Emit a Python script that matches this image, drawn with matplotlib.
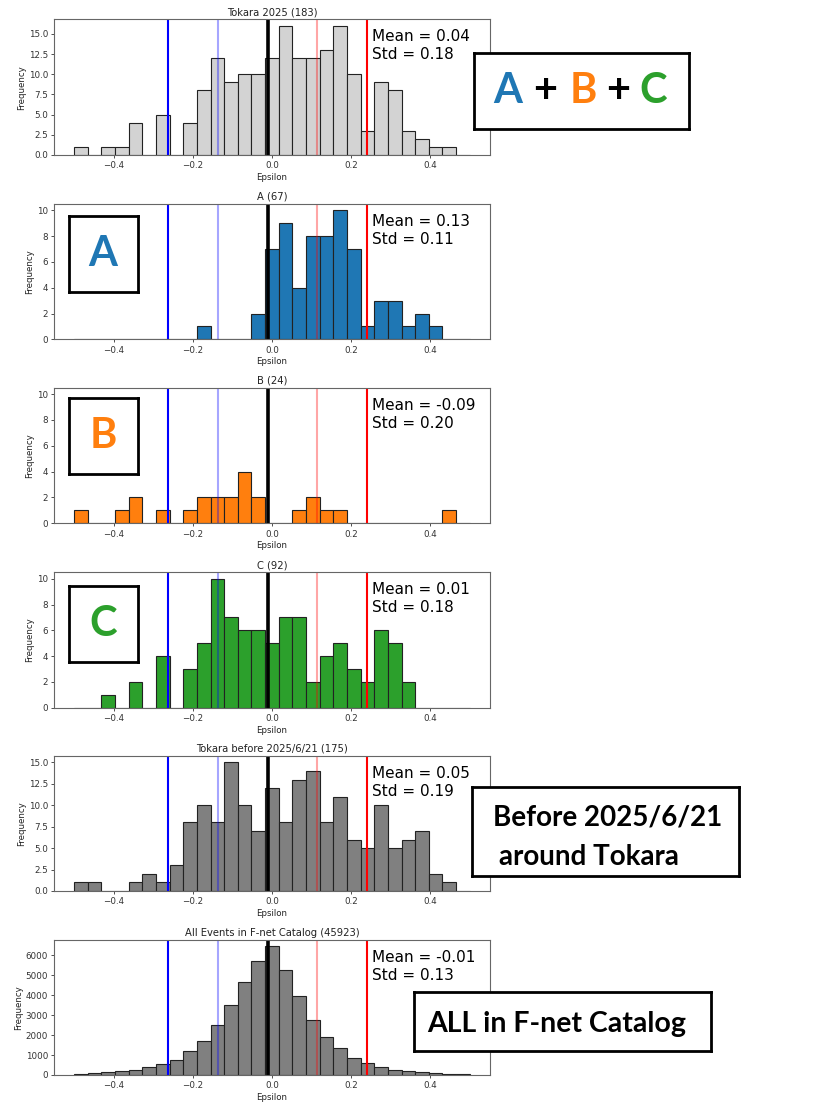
import numpy as np
import matplotlib.pyplot as plt
from matplotlib.ticker import MultipleLocator

# histogram bins (29 bins between -0.5 and 0.5)
edges = np.linspace(-0.5, 0.5, 30)

counts_total = [1, 0, 1, 1, 4, 0, 5, 0, 4, 8, 12, 9, 10, 10, 12, 16, 12, 12, 13, 16,
                10, 3, 9, 8, 3, 2, 1, 1, 0]
counts_a = [0, 0, 0, 0, 0, 0, 0, 0, 0, 1, 0, 0, 0, 2, 7, 9, 4, 8, 8, 10,
            7, 1, 3, 3, 1, 2, 1, 0, 0]
counts_b = [1, 0, 0, 1, 2, 0, 1, 0, 1, 2, 2, 2, 4, 2, 0, 0, 1, 2, 1, 1,
            0, 0, 0, 0, 0, 0, 0, 1, 0]
counts_c = [0, 0, 1, 0, 2, 0, 4, 0, 3, 5, 10, 7, 6, 6, 5, 7, 7, 2, 4, 5,
            3, 2, 6, 5, 2, 0, 0, 0, 0]
counts_before = [1, 1, 0, 0, 1, 2, 1, 3, 8, 10, 8, 15, 10, 7, 12, 8, 13, 14, 8, 11,
                 6, 5, 10, 5, 6, 7, 2, 1, 0]
counts_all = [35, 85, 140, 190, 260, 410, 540, 775, 1190, 1720, 2500, 3500, 4680, 5700,
              6450, 5280, 3950, 2760, 1920, 1340, 860, 610, 410, 260, 190, 155, 100, 70, 35]

titles = ['Tokara 2025 (183)', 'A (67)', 'B (24)', 'C (92)',
          'Tokara before 2025/6/21 (175)', 'All Events in F-net Catalog (45923)']
means = ['0.04', '0.13', '-0.09', '0.01', '0.05', '-0.01']
stds = ['0.18', '0.11', '0.20', '0.18', '0.19', '0.13']
colors = ['lightgray', '#1f77b4', '#ff7f0e', '#2ca02c', 'gray', 'gray']
ytick_steps = [2.5, 2, 2, 2, 2.5, 1000]
all_counts = [counts_total, counts_a, counts_b, counts_c, counts_before, counts_all]

# reference lines: mean and +-1, +-2 std of the whole F-net catalog
ref_mean = -0.011
ref_std = 0.1255

fig = plt.figure(figsize=(8.27, 11.02), dpi=100)
W, H = 827, 1102

def fig_rect(x0, y0, x1, y1):
    # pixel box (top-left origin) -> figure fraction rect
    return [x0 / W, 1 - y1 / H, (x1 - x0) / W, (y1 - y0) / H]

panel_px = [(19.3, 155), (204, 339.3), (387.7, 523.3), (572.3, 707.7), (756, 891), (940, 1075)]

axes = []
for i, (top, bot) in enumerate(panel_px):
    ax = fig.add_axes(fig_rect(54.3, top, 489.5, bot))
    axes.append(ax)
    ax.bar(edges[:-1], all_counts[i], width=np.diff(edges), align='edge',
           color=colors[i], edgecolor='#222222', linewidth=0.8)
    ax.axvline(ref_mean - 2 * ref_std, color='blue', lw=1.5)
    ax.axvline(ref_mean - ref_std, color='blue', lw=1.5, alpha=0.35)
    ax.axvline(ref_mean, color='black', lw=2.6)
    ax.axvline(ref_mean + ref_std, color='red', lw=1.5, alpha=0.35)
    ax.axvline(ref_mean + 2 * ref_std, color='red', lw=1.5)
    ax.set_xlim(-0.55, 0.55)
    ax.set_xticks([-0.4, -0.2, 0.0, 0.2, 0.4])
    ax.yaxis.set_major_locator(MultipleLocator(ytick_steps[i]))
    ax.set_title(titles[i], fontsize=7.2, pad=3, color='#222222')
    ax.set_xlabel('Epsilon', fontsize=6.2, labelpad=2, color='#222222')
    ax.set_ylabel('Frequency', fontsize=6.2, labelpad=2, color='#222222')
    ax.tick_params(labelsize=6.3, length=2.5, width=0.6, pad=2, colors='#333333')
    for sp in ax.spines.values():
        sp.set_linewidth(0.8)
        sp.set_color('#666666')
    ax.text(0.73, 0.925, 'Mean = %s\nStd = %s' % (means[i], stds[i]),
            transform=ax.transAxes, fontsize=11, va='top', ha='left',
            linespacing=1.25)

# A, B, C share the same y range
for ax in axes[1:4]:
    ax.set_ylim(0, max(counts_a) * 1.05)


def label_box(x0, y0, x1, y1):
    bx = fig.add_axes(fig_rect(x0, y0, x1, y1))
    bx.set_xticks([])
    bx.set_yticks([])
    bx.set_facecolor('white')
    for sp in bx.spines.values():
        sp.set_linewidth(2.0)
        sp.set_color('black')
    return bx


box_font = dict(family='Lato', weight='bold')

bx = label_box(474, 52.7, 689, 128.7)
parts = ['A', '+', 'B', '+', 'C']
part_colors = ['#1f77b4', 'black', '#ff7f0e', 'black', '#2ca02c']
for xf, p, c in zip([0.158, 0.33, 0.507, 0.67, 0.833], parts, part_colors):
    bx.text(xf, 0.5, p, color=c, fontsize=30, ha='center', va='center', **box_font)

for (y0, y1), letter, c in zip([(216, 292), (398, 474), (586.3, 661.7)],
                               ['A', 'B', 'C'], ['#1f77b4', '#ff7f0e', '#2ca02c']):
    bx = label_box(68.5, y0, 137.5, y1)
    bx.text(0.5, 0.5, letter, color=c, fontsize=30, ha='center', va='center', **box_font)

bx = label_box(471.7, 786.7, 739.3, 876)
bx.text(0.08, 0.571, 'Before 2025/6/21', fontsize=20, ha='left', va='baseline', **box_font)
bx.text(0.102, 0.123, 'around Tokara', fontsize=20, ha='left', va='baseline', **box_font)

bx = label_box(414, 992.3, 711, 1050.7)
bx.text(0.043, 0.325, 'ALL in F-net Catalog', fontsize=20.5, ha='left', va='baseline', **box_font)

fig.savefig('out.png', dpi=100)
